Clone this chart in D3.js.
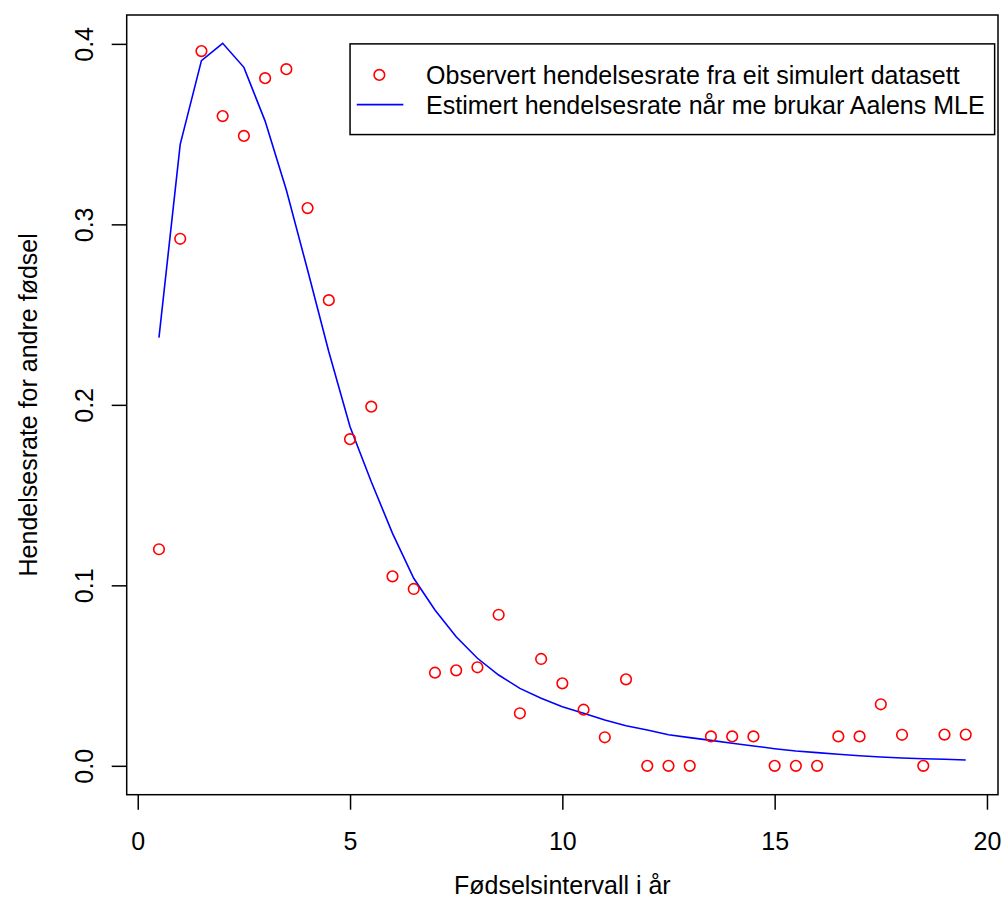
<!DOCTYPE html>
<html>
<head>
<meta charset="utf-8">
<script src="https://cdn.jsdelivr.net/npm/d3@7"></script>
<style>
  html, body { margin: 0; padding: 0; background: #fff; }
  svg { display: block; font-family: "Liberation Sans", Arial, sans-serif; }
</style>
</head>
<body>
<svg id="chart" width="1003" height="913"></svg>
<script>
// ---- data ----
const intervals = [0.5, 1, 1.5, 2, 2.5, 3, 3.5, 4, 4.5, 5, 5.5, 6, 6.5, 7, 7.5, 8, 8.5, 9, 9.5, 10,
                   10.5, 11, 11.5, 12, 12.5, 13, 13.5, 14, 14.5, 15, 15.5, 16, 16.5, 17, 17.5, 18, 18.5, 19, 19.5];
const observedRate = [0.120, 0.292, 0.396, 0.360, 0.349, 0.381, 0.386, 0.309, 0.258, 0.181,
                      0.199, 0.105, 0.098, 0.0516, 0.0529, 0.0546, 0.0837, 0.0291, 0.0592, 0.0457,
                      0.0311, 0.0158, 0.0479, 0, 0, 0, 0.0163, 0.0163, 0.0163, 0,
                      0, 0, 0.0163, 0.0163, 0.0341, 0.0172, 0, 0.0173, 0.0173];
const estimatedRate = [0.2372, 0.3443, 0.3907, 0.4003, 0.3870, 0.3572, 0.3190, 0.2747, 0.2294, 0.1879,
                       0.1574, 0.1288, 0.1039, 0.0863, 0.0715, 0.0596, 0.0503, 0.0429, 0.0374, 0.0327,
                       0.0291, 0.0254, 0.0222, 0.0198, 0.0172, 0.0156, 0.0141, 0.0125, 0.0110, 0.0095,
                       0.0082, 0.0073, 0.0064, 0.0056, 0.0049, 0.0043, 0.0039, 0.0036, 0.0032];
const xTicks = [0, 5, 10, 15, 20];
const yTicks = [0.0, 0.1, 0.2, 0.3, 0.4];
const xTitle = "Fødselsintervall i år";
const yTitle = "Hendelsesrate for andre fødsel";
const legendLabels = ["Observert hendelsesrate fra eit simulert datasett",
                      "Estimert hendelsesrate når me brukar Aalens MLE"];

// ---- layout ----
const svg = d3.select("#chart");
const plot = { left: 126.7, right: 998, top: 15, bottom: 794.7 };
const FS = 25;

function rExtend(lo, hi) { const d = (hi - lo) * 0.04; return [lo - d, hi + d]; }
const x = d3.scaleLinear().domain(rExtend(d3.min(intervals), d3.max(intervals))).range([plot.left, plot.right]);
const y = d3.scaleLinear().domain(rExtend(0, 0.4)).range([plot.bottom, plot.top]);

// estimated curve
const line = d3.line().x((d, i) => x(intervals[i])).y(d => y(d));
svg.append("path")
  .datum(estimatedRate)
  .attr("d", line)
  .attr("fill", "none")
  .attr("stroke", "#0000ff")
  .attr("stroke-width", 1.6);

// observed points
svg.append("g").selectAll("circle")
  .data(observedRate)
  .join("circle")
  .attr("cx", (d, i) => x(intervals[i]))
  .attr("cy", d => y(d))
  .attr("r", 5.3)
  .attr("fill", "none")
  .attr("stroke", "#ff0000")
  .attr("stroke-width", 1.6);

// plot box
svg.append("rect")
  .attr("x", plot.left).attr("y", plot.top)
  .attr("width", plot.right - plot.left).attr("height", plot.bottom - plot.top)
  .attr("fill", "none").attr("stroke", "#000").attr("stroke-width", 1.5);

// x axis
const gx = svg.append("g")
  .attr("transform", `translate(0,${plot.bottom})`)
  .call(d3.axisBottom(x).tickValues(xTicks).tickFormat(d3.format("d")).tickSize(15).tickSizeOuter(0).tickPadding(23));
gx.select(".domain").remove();
gx.selectAll(".tick line").attr("stroke", "#000").attr("stroke-width", 1.5);
gx.selectAll(".tick text").attr("font-size", FS).attr("font-family", "Liberation Sans, Arial, sans-serif").attr("fill", "#000");

// y axis
const gy = svg.append("g")
  .attr("transform", `translate(${plot.left},0)`)
  .call(d3.axisLeft(y).tickValues(yTicks).tickFormat(d3.format(".1f")).tickSize(15).tickSizeOuter(0));
gy.select(".domain").remove();
gy.selectAll(".tick line").attr("stroke", "#000").attr("stroke-width", 1.5);
gy.selectAll(".tick text")
  .attr("font-size", FS).attr("font-family", "Liberation Sans, Arial, sans-serif").attr("fill", "#000")
  .attr("text-anchor", "middle")
  .attr("x", 0).attr("y", -34).attr("dy", 0)
  .attr("transform", "rotate(-90)");

// axis titles
svg.append("text")
  .attr("x", (plot.left + plot.right) / 2).attr("y", 894)
  .attr("text-anchor", "middle").attr("font-size", FS).attr("fill", "#000")
  .text(xTitle);
svg.append("text")
  .attr("transform", `translate(37,${(plot.top + plot.bottom) / 2}) rotate(-90)`)
  .attr("text-anchor", "middle").attr("font-size", FS).attr("fill", "#000")
  .text(yTitle);

// legend
const lg = svg.append("g");
const lgLeft = x(5), lgTop = y(0.4);
const textX = lgLeft + 76;
const rowBase = [lgTop + 40, lgTop + 70];
const box = lg.append("rect")
  .attr("x", lgLeft).attr("y", lgTop)
  .attr("height", 90.7)
  .attr("fill", "#fff").attr("stroke", "#000").attr("stroke-width", 1.5);
let maxLen = 0;
legendLabels.forEach((t, i) => {
  const tx = lg.append("text")
    .attr("x", textX).attr("y", rowBase[i])
    .attr("font-size", FS).attr("fill", "#000").text(t);
  maxLen = Math.max(maxLen, tx.node().getComputedTextLength());
});
box.attr("width", textX + maxLen + 10 - lgLeft);
lg.append("circle")
  .attr("cx", lgLeft + 29.3).attr("cy", lgTop + 31)
  .attr("r", 5.3).attr("fill", "none").attr("stroke", "#ff0000").attr("stroke-width", 1.6);
lg.append("line")
  .attr("x1", lgLeft + 6.7).attr("x2", lgLeft + 53.3)
  .attr("y1", lgTop + 60.7).attr("y2", lgTop + 60.7)
  .attr("stroke", "#0000ff").attr("stroke-width", 1.6);
</script>
</body>
</html>
